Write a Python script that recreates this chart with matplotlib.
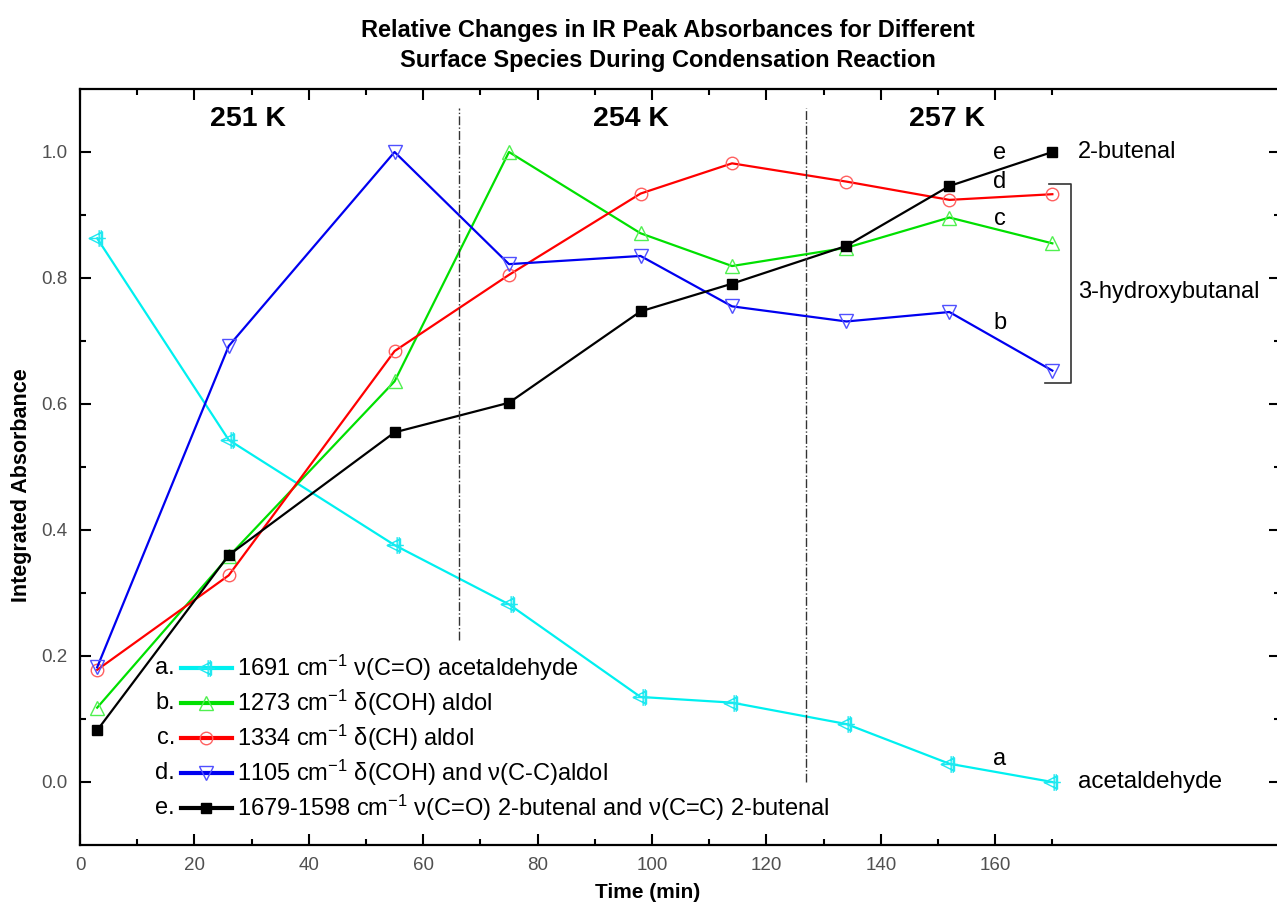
import matplotlib.pyplot as plt
import numpy as np
from matplotlib.path import Path
from matplotlib.lines import Line2D

plt.rcParams['font.family'] = ['Liberation Sans', 'DejaVu Sans']
plt.rcParams['mathtext.fontset'] = 'custom'
plt.rcParams['mathtext.rm'] = 'Liberation Sans'
plt.rcParams['mathtext.it'] = 'Liberation Sans:italic'

# Zeitpunkte (min)
time = [3, 26, 55, 75, 98, 114, 134, 152, 170]

# normierte integrierte Absorbanzen
acetaldehyde = [0.863, 0.543, 0.376, 0.282, 0.135, 0.126, 0.092, 0.029, 0.0]
coh_1273 = [0.118, 0.358, 0.636, 1.0, 0.871, 0.819, 0.848, 0.896, 0.855]
ch_1334 = [0.178, 0.328, 0.684, 0.805, 0.934, 0.982, 0.953, 0.924, 0.933]
coh_1105 = [0.182, 0.692, 1.0, 0.822, 0.835, 0.755, 0.731, 0.746, 0.653]
butenal = [0.082, 0.36, 0.555, 0.602, 0.747, 0.791, 0.851, 0.946, 1.0]

legend_keys = ['a.', 'b.', 'c.', 'd.', 'e.']
legend_labels = [
    r'1691 cm$^{-1}$ ν(C=O) acetaldehyde',
    r'1273 cm$^{-1}$ δ(COH) aldol',
    r'1334 cm$^{-1}$ δ(CH) aldol',
    r'1105 cm$^{-1}$ δ(COH) and ν(C-C)aldol',
    r'1679-1598 cm$^{-1}$ ν(C=O) 2-butenal and ν(C=C) 2-butenal',
]

temp_labels = ['251 K', '254 K', '257 K']
temp_x = [29.4, 96.3, 151.6]
boundaries = [66.3, 127.0]

# Origin-artiger Marker: Dreieck links mit Kreuz
verts = [(-1, 0), (0.6, 0.8), (0.6, -0.8), (-1, 0),
         (-1, 0), (1, 0),
         (0.2, -1), (0.2, 1),
         (0.45, -1), (0.45, 1)]
codes = [Path.MOVETO, Path.LINETO, Path.LINETO, Path.CLOSEPOLY,
         Path.MOVETO, Path.LINETO,
         Path.MOVETO, Path.LINETO,
         Path.MOVETO, Path.LINETO]
cross_tri = Path(verts, codes)

series = [
    (acetaldehyde, '#00F0F0', '#20E8F0', cross_tri, 12, 'none'),
    (coh_1273, '#00E000', '#50F050', '^', 10, 'none'),
    (ch_1334, '#FF0000', '#FF6060', 'o', 9, 'none'),
    (coh_1105, '#0000F0', '#5050FF', 'v', 10, 'none'),
    (butenal, 'black', 'black', 's', 7, 'black'),
]

fig = plt.figure(figsize=(12.77, 9.07), dpi=100)
ax = fig.add_axes([80 / 1277, (907 - 845) / 907, 1200 / 1277, (845 - 89) / 907])

for vals, lc, mc, mk, ms, mfc in series:
    ax.plot(time, vals, '-', color=lc, lw=1.6, marker=mk, markersize=ms,
            markeredgecolor=mc, markerfacecolor=mfc, markeredgewidth=1.0)

# Temperaturbereiche
ax.axvline(boundaries[0], ymin=(0.225 + 0.1) / 1.2, ymax=(1.07 + 0.1) / 1.2,
           color='#333333', lw=1.0, ls='-.')
ax.axvline(boundaries[1], ymin=(0.0 + 0.1) / 1.2, ymax=(1.07 + 0.1) / 1.2,
           color='#333333', lw=1.0, ls='-.')
for tx, tl in zip(temp_x, temp_labels):
    ax.text(tx, 1.053, tl, ha='center', va='center', fontsize=20.5, fontweight='bold')

# Kurzbezeichnungen
for lab, yy in zip(['e', 'd', 'c', 'b', 'a'], [0.998, 0.952, 0.893, 0.729, 0.037]):
    ax.text(160.8, yy, lab, ha='center', va='center', fontsize=17)
ax.text(174.5, 1.0, '2-butenal', ha='left', va='center', fontsize=17)
ax.text(174.5, 0.777, '3-hydroxybutanal', ha='left', va='center', fontsize=17)
ax.text(174.5, 0.0, 'acetaldehyde', ha='left', va='center', fontsize=17.5)
ax.plot([169.4, 173.2, 173.2, 168.8], [0.949, 0.949, 0.634, 0.634],
        color='#333333', lw=1.2)

# Legende manuell (Buchstabe vor dem Symbol)
for i, (key, text, s) in enumerate(zip(legend_keys, legend_labels, series)):
    yy = (845 - (668 + 35 * i)) / 756
    ax.text((175 - 80) / 1200, yy, key, transform=ax.transAxes,
            ha='right', va='center', fontsize=17)
    ax.add_line(Line2D([(181 - 80) / 1200, (232 - 80) / 1200], [yy, yy],
                       transform=ax.transAxes, color=s[1], lw=3.0))
    ax.add_line(Line2D([(206 - 80) / 1200], [yy], transform=ax.transAxes,
                       marker=s[3], markersize=s[4], markeredgecolor=s[2],
                       markerfacecolor=s[5], markeredgewidth=1.0, color=s[1]))
    ax.text((237 - 80) / 1200, yy, text, transform=ax.transAxes,
            ha='left', va='center', fontsize=17)

ax.set_xlim(0, 209.8)
ax.set_ylim(-0.1, 1.1)
ax.set_xticks(np.arange(0, 161, 20))
ax.set_xticks(np.arange(10, 171, 20), minor=True)
ax.set_yticks(np.arange(0, 1.01, 0.2))
ax.set_yticks([0.1, 0.3, 0.5, 0.7, 0.9], minor=True)
ax.set_yticklabels(['0.0', '0.2', '0.4', '0.6', '0.8', '1.0'])
ax.tick_params(which='both', direction='in', top=True, right=True,
               width=1.5, labelsize=13.5, labelcolor='#505050', pad=9)
ax.tick_params(which='major', length=8)
ax.tick_params(which='minor', length=4)
for sp in ax.spines.values():
    sp.set_linewidth(1.6)

fig.text(668 / 1277, 1 - 30 / 907, 'Relative Changes in IR Peak Absorbances for Different',
         ha='center', va='center', fontsize=17, fontweight='bold')
fig.text(668 / 1277, 1 - 60 / 907, 'Surface Species During Condensation Reaction',
         ha='center', va='center', fontsize=17, fontweight='bold')
fig.text(22 / 1277, 1 - 485 / 907, 'Integrated Absorbance', rotation=90,
         ha='center', va='center', fontsize=15.5, fontweight='bold')
fig.text(648 / 1277, 1 - 893 / 907, 'Time (min)', ha='center', va='center',
         fontsize=15, fontweight='bold')

fig.savefig('out.png', dpi=100)
